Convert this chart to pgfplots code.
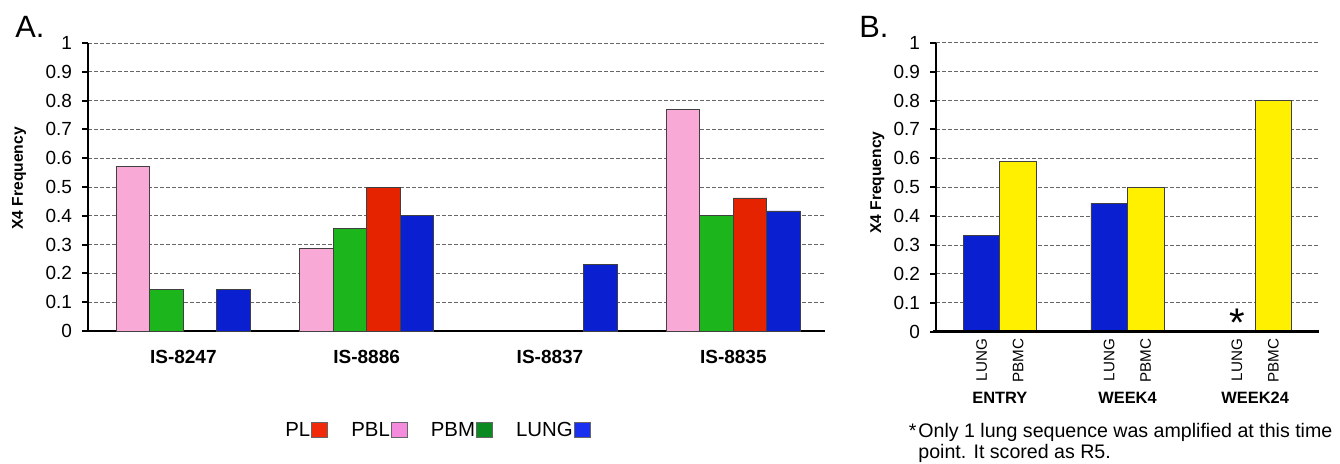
\documentclass[border=0pt]{standalone}
\usepackage{fontspec}
\setmainfont{Liberation Sans}
\usepackage{pgfplots}
\pgfplotsset{compat=1.18}

\definecolor{pinkbar}{RGB}{249,169,214}
\definecolor{greenbar}{RGB}{28,181,28}
\definecolor{redbar}{RGB}{229,35,0}
\definecolor{bluebar}{RGB}{10,31,208}
\definecolor{yellowbar}{RGB}{255,240,0}
\definecolor{legred}{RGB}{240,42,10}
\definecolor{legpink}{RGB}{245,139,220}
\definecolor{leggreen}{RGB}{11,138,34}
\definecolor{legblue}{RGB}{26,48,240}

\pgfplotsset{
  mybase/.style={
    scale only axis,
    clip=false,
    ymin=0, ymax=1,
    ytick={0,0.1,0.2,0.3,0.4,0.5,0.6,0.7,0.8,0.9,1},
    yticklabels={0,0.1,0.2,0.3,0.4,0.5,0.6,0.7,0.8,0.9,1},
    ymajorgrids,
    grid style={dash pattern=on 2pt off 1pt, black!60, line width=0.5pt},
    axis x line*=bottom,
    axis y line*=left,
    axis line style={-, line width=1.3pt, black},
    tick align=outside,
    major tick length=3pt,
    ytick style={line width=1pt, black},
    xtick style={draw=none},
    yticklabel style={font=\fontsize{9.5}{11}\selectfont, xshift=-1.5pt},
    ylabel={X4 Frequency},
  },
  mybar/.style={ybar, bar width=#1, draw=black!75, line width=0.4pt},
}

\begin{document}
\begin{tikzpicture}
\useasboundingbox (0,0) rectangle (670pt,-231.5pt);

\node[anchor=base west, inner sep=0pt, font=\fontsize{15.4}{17}\selectfont] at (7.5pt,-18.5pt) {A.};
\node[anchor=base west, inner sep=0pt, font=\fontsize{15.4}{17}\selectfont] at (429.5pt,-18.5pt) {B.};

% ---------------- Panel A ----------------
\begin{axis}[
  mybase,
  at={(44pt,-165.5pt)}, anchor=south west,
  width=368.5pt, height=144pt,
  xmin=-0.52, xmax=3.50,
  xtick={0,1,2,3},
  xticklabels={IS-8247,IS-8886,IS-8837,IS-8835},
  xticklabel style={font=\bfseries\fontsize{9.5}{11}\selectfont, yshift=-3pt},
  ylabel style={at={(axis description cs:-0.0936,0.53)}, anchor=center, rotate=0, font=\bfseries\fontsize{7.8}{9}\selectfont},
  legend columns=4,
  legend plot pos=right,
  legend image code/.code={\draw[#1] (0pt,-3pt) rectangle (8pt,4.5pt);},
  legend style={at={(0.474,-0.347)}, anchor=center, draw=none, fill=none,
    font=\fontsize{10.2}{12}\selectfont, inner sep=0pt,
    nodes={inner sep=0.6pt},
    /tikz/every even column/.append style={column sep=11pt}},
]
\addlegendimage{fill=legred, draw=black!60, line width=0.3pt}
\addlegendentry{PL}
\addlegendimage{fill=legpink, draw=black!60, line width=0.3pt}
\addlegendentry{PBL}
\addlegendimage{fill=leggreen, draw=black!60, line width=0.3pt}
\addlegendentry{PBM}
\addlegendimage{fill=legblue, draw=black!60, line width=0.3pt}
\addlegendentry{LUNG}

% PBL
\addplot[mybar=0.183, bar shift=-0.2745, fill=pinkbar, forget plot] coordinates {(0,0.572) (1,0.286) (3,0.770)};
% PBM
\addplot[mybar=0.183, bar shift=-0.0915, fill=greenbar, forget plot] coordinates {(0,0.143) (1,0.357) (3,0.400)};
% PL
\addplot[mybar=0.183, bar shift=0.0915, fill=redbar, forget plot] coordinates {(1,0.500) (3,0.462)};
% LUNG
\addplot[mybar=0.183, bar shift=0.2745, fill=bluebar, forget plot] coordinates {(0,0.143) (1,0.400) (2,0.231) (3,0.417)};
\end{axis}

% ---------------- Panel B ----------------
\begin{axis}[
  mybase,
  at={(468pt,-165.85pt)}, anchor=south west,
  width=191.5pt, height=144.5pt,
  xmin=-0.50, xmax=2.50,
  x axis line style={draw=none},
  xtick={-0.143,0.143,0.857,1.143,1.857,2.143},
  xticklabels={LUNG,PBMC,LUNG,PBMC,LUNG,PBMC},
  xticklabel style={rotate=90, anchor=east, font=\fontsize{7.6}{9}\selectfont},
  xticklabel shift=-3pt,
  ylabel style={at={(axis description cs:-0.153,0.516)}, anchor=center, rotate=0, font=\bfseries\fontsize{7.8}{9}\selectfont},
]
% LUNG
\addplot[mybar=0.286, bar shift=-0.143, fill=bluebar] coordinates {(0,0.333) (1,0.444)};
% PBMC
\addplot[mybar=0.286, bar shift=0.143, fill=yellowbar] coordinates {(0,0.588) (1,0.500) (2,0.800)};
\draw[line width=1.3pt, black] (axis cs:-0.52,0) -- (axis cs:2.50,0);
\node[anchor=base, inner sep=0pt, font=\fontsize{20}{20}\selectfont, yshift=-2.5pt] at (axis cs:1.857,0) {*};
\node[anchor=base, inner sep=0pt, font=\bfseries\fontsize{8.2}{9}\selectfont] at (axis cs:0,0) [yshift=-36pt] {ENTRY};
\node[anchor=base, inner sep=0pt, font=\bfseries\fontsize{8.2}{9}\selectfont] at (axis cs:1,0) [yshift=-36pt] {WEEK4};
\node[anchor=base, inner sep=0pt, font=\bfseries\fontsize{8.2}{9}\selectfont] at (axis cs:2,0) [yshift=-36pt] {WEEK24};
\end{axis}

\node[anchor=base west, inner sep=0pt, font=\fontsize{9.8}{10.5}\selectfont] at (459pt,-218.8pt) {\llap{*\hspace{1pt}}Only 1 lung sequence was amplified at this time};
\node[anchor=base west, inner sep=0pt, font=\fontsize{9.8}{10.5}\selectfont] at (459pt,-229pt) {point. It scored as R5.};
\end{tikzpicture}
\end{document}
